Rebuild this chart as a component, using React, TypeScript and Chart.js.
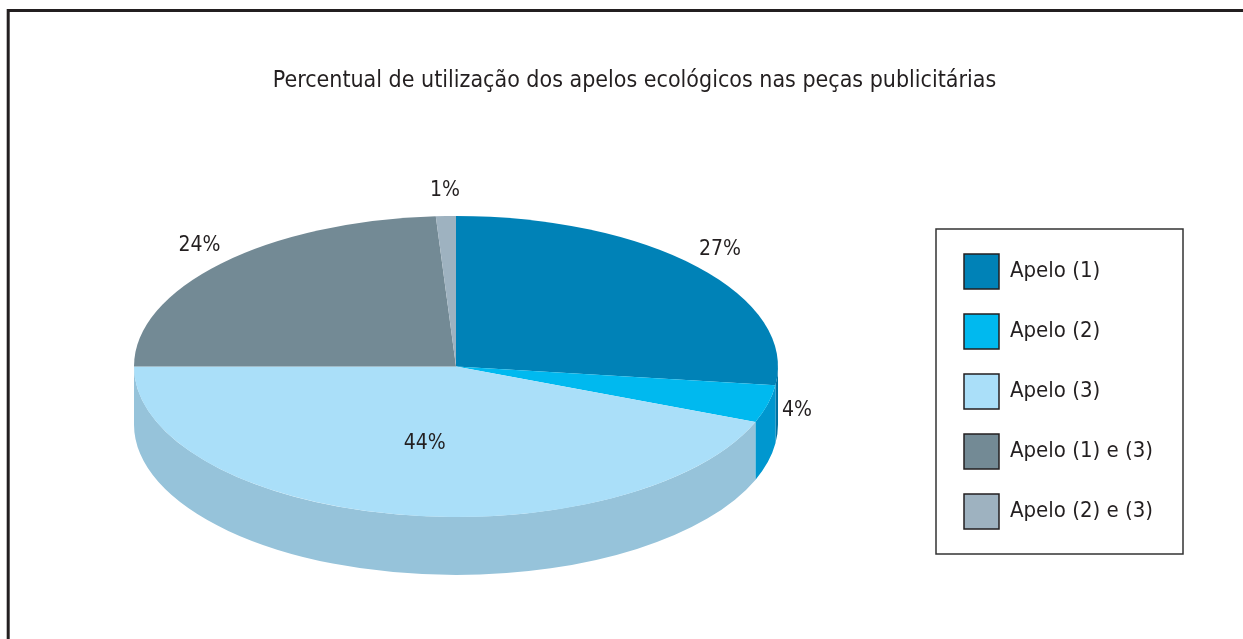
import React, { useEffect, useRef } from "react";
import { Chart, registerables } from "chart.js";

Chart.register(...registerables);

// ---------- data ----------
const TITLE = "Percentual de utilização dos apelos ecológicos nas peças publicitárias";
const categories = ["Apelo (1)", "Apelo (2)", "Apelo (3)", "Apelo (1) e (3)", "Apelo (2) e (3)"];
const values = [27, 4, 44, 24, 1];
const valueLabels = ["27%", "4%", "44%", "24%", "1%"];

// ---------- styles ----------
const topColors = ["#0082B7", "#00B9EF", "#AADFF9", "#738A95", "#9EB2C0"];
const sideColors = ["#0070A0", "#0097CF", "#96C3DA", "#61757F", "#8698A5"];
const TEXT = "#231f20";
const FONT = "'Liberation Sans Narrow', 'DejaVu Sans Condensed', 'Arial Narrow', sans-serif";
const W = 1243;
const H = 639;
// projected ellipse of the pie's top face, and wall depth
const VIEW = { cx: 456, cy: 366.5, rx: 322, ry: 150.5, depth: 58 };

const framePlugin = {
  id: "frame",
  beforeDraw(chart: any) {
    const ctx = chart.ctx;
    ctx.save();
    ctx.strokeStyle = TEXT;
    ctx.lineWidth = 3;
    ctx.beginPath();
    ctx.moveTo(8.2, H + 5);
    ctx.lineTo(8.2, 10.5);
    ctx.lineTo(W + 5, 10.5);
    ctx.stroke();
    ctx.restore();
  },
  afterDraw(chart: any) {
    const lg = chart.legend;
    if (!lg || !lg.legendHitBoxes || !lg.legendHitBoxes.length) return;
    const hb = lg.legendHitBoxes;
    let left = Infinity, top = Infinity, right = -Infinity, bottom = -Infinity;
    hb.forEach((h: any) => {
      left = Math.min(left, h.left);
      top = Math.min(top, h.top);
      right = Math.max(right, h.left + h.width);
      bottom = Math.max(bottom, h.top + h.height);
    });
    const ctx = chart.ctx;
    ctx.save();
    ctx.strokeStyle = "#333";
    ctx.lineWidth = 1.5;
    ctx.strokeRect(left - 28, top - 25, right - left + 28 + 30, bottom - top + 50);
    ctx.restore();
  },
};

const pie3dPlugin = {
  id: "pie3d",
  beforeDatasetsDraw(chart: any) {
    const meta = chart.getDatasetMeta(0);
    if (!meta.data.length) return;
    const ctx = chart.ctx;
    const first = meta.data[0];
    const r = first.outerRadius;
    const { cx, cy, rx, ry, depth } = VIEW;
    ctx.save();
    meta.data.forEach((arc: any, i: number) => {
      const a = Math.max(arc.startAngle, 0);
      const b = Math.min(arc.endAngle, Math.PI);
      if (b <= a) return;
      ctx.beginPath();
      ctx.ellipse(cx, cy, rx, ry, 0, a, b, false);
      ctx.lineTo(cx + rx * Math.cos(b), cy + ry * Math.sin(b) + depth);
      ctx.ellipse(cx, cy + depth, rx, ry, 0, b, a, true);
      ctx.closePath();
      ctx.fillStyle = sideColors[i];
      ctx.fill();
    });
    ctx.restore();
    ctx.save();
    ctx.translate(cx, cy);
    ctx.scale(rx / r, ry / r);
    ctx.translate(-first.x, -first.y);
  },
  afterDatasetsDraw(chart: any) {
    const meta = chart.getDatasetMeta(0);
    if (!meta.data.length) return;
    const ctx = chart.ctx;
    ctx.restore();
    const { cx, cy, rx, ry } = VIEW;
    ctx.save();
    ctx.fillStyle = TEXT;
    ctx.font = `21px ${FONT}`;
    ctx.textAlign = "center";
    ctx.textBaseline = "middle";
    meta.data.forEach((arc: any, i: number) => {
      const mid = (arc.startAngle + arc.endAngle) / 2;
      const c = Math.cos(mid);
      const s = Math.sin(mid);
      let x: number, y: number;
      if (values[i] > 30) {
        x = cx + 0.52 * rx * c;
        y = cy + 0.52 * ry * s;
      } else {
        x = cx + (rx + 30) * c;
        y = cy + (ry + 26) * s;
      }
      ctx.fillText(valueLabels[i], x, y);
    });
    ctx.restore();
  },
};

export default function App() {
  const ref = useRef<HTMLCanvasElement | null>(null);
  useEffect(() => {
    if (!ref.current) return;
    const chart = new Chart(ref.current, {
      type: "pie",
      data: {
        labels: categories,
        datasets: [
          {
            data: values,
            backgroundColor: topColors,
            borderWidth: 0,
            clip: false as any,
          },
        ],
      },
      options: {
        responsive: false,
        animation: false,
        events: [],
        layout: { padding: { left: 106, right: 80, top: 0, bottom: 0 } },
        plugins: {
          title: {
            display: true,
            text: TITLE,
            color: TEXT,
            font: { family: FONT, size: 23, weight: "normal" as any, lineHeight: 1.2 },
            padding: { top: 67.4, bottom: 49 },
          },
          legend: {
            display: true,
            position: "right",
            align: "center",
            fullSize: false,
            labels: {
              boxWidth: 35,
              boxHeight: 35,
              padding: 25,
              color: TEXT,
              font: { family: FONT, size: 22 },
              generateLabels: () =>
                categories.map((t, i) => ({
                  text: t,
                  fillStyle: topColors[i],
                  strokeStyle: "#231f20",
                  lineWidth: 1.5,
                  hidden: false,
                  index: i,
                  fontColor: TEXT,
                })),
            },
          },
          tooltip: { enabled: false },
        },
      },
      plugins: [framePlugin, pie3dPlugin],
    });
    return () => chart.destroy();
  }, []);
  return (
    <div style={{ position: "absolute", left: 0, top: 0, width: W, height: H, background: "#fff" }}>
      <canvas ref={ref} width={W} height={H} style={{ display: "block" }} />
    </div>
  );
}
